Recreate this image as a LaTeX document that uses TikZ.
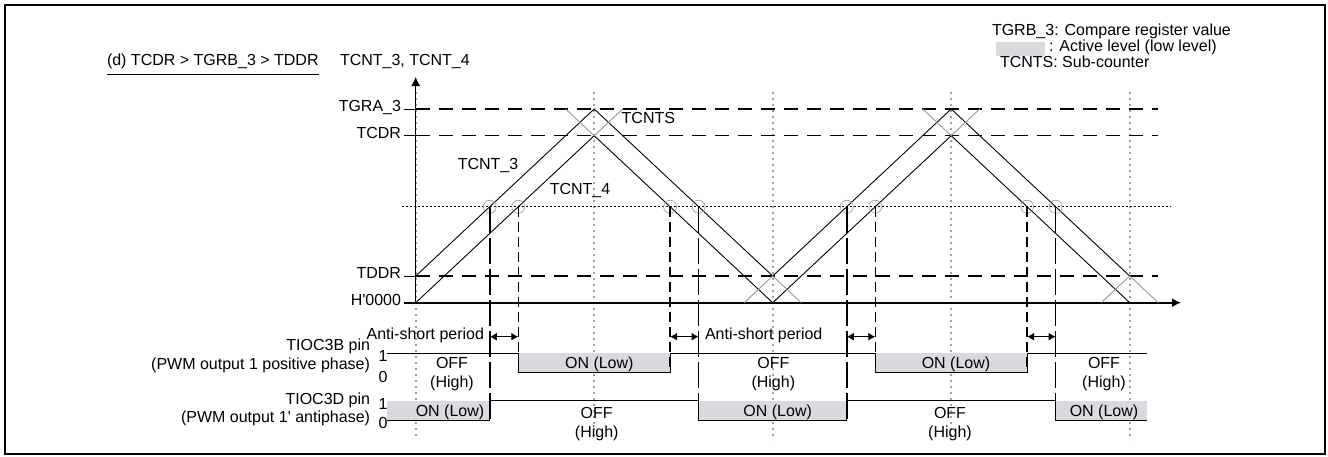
\documentclass[tikz,border=0pt]{standalone}
\usepackage{fontspec}
\setmainfont{Liberation Sans}
\usetikzlibrary{arrows.meta,calc}
\definecolor{actfill}{RGB}{217,218,223}
\definecolor{dotgray}{RGB}{160,160,160}
\definecolor{subgray}{RGB}{150,150,150}
\begin{document}
\begin{tikzpicture}[x=1pt,y=-1pt,
  every node/.style={font=\fontsize{16}{18.5}\selectfont, inner sep=0pt, outer sep=0pt},
  frameline/.style={line width=2pt},
  levelline/.style={line width=1.3pt, dash pattern=on 14pt off 9pt},
  cmpline/.style={line width=1pt, dash pattern=on 2pt off 2pt},
  gridline/.style={dotgray, line width=1.6pt, dash pattern=on 1.6pt off 4.4pt},
  cnt/.style={line width=0.9pt},
  subcnt/.style={subgray, line width=0.9pt},
  markthree/.style={line width=1.4pt, dash pattern=on 26pt off 5pt},
  markfour/.style={line width=1.4pt, dash pattern=on 10pt off 5pt},
  wave/.style={line width=1pt},
  ring/.style={draw=subgray, line width=0.6pt, circle, minimum size=13pt},
  gaparrow/.style={{Latex[length=7pt,width=8pt]}-{Latex[length=7pt,width=8pt]}, line width=1.2pt},
  axisarrow/.style={-{Latex[length=9pt,width=9pt]}},
]
\useasboundingbox (0,0) rectangle (1328,456);
\draw[frameline] (5,5) rectangle (1325,454);

% grid verticals
\foreach \x in {415.7,594.2,772.7,951.2,1129.7}
  \draw[gridline] (\x,92) -- (\x,440);

% active level fills
\fill[actfill] (518.3,353.3) rectangle (670.1,372.7);
\fill[actfill] (875.3,353.3) rectangle (1027.1,372.7);
\fill[actfill] (387,400.7) rectangle (489.8,420.7);
\fill[actfill] (698.6,400.7) rectangle (846.8,420.7);
\fill[actfill] (1055.6,400.7) rectangle (1146.7,420.7);

% level lines
\draw[levelline] (416,109) -- (1158,109);
\draw[levelline] (416,135.7) -- (1158,135.7);
\draw[levelline] (416,276) -- (1158,276);
\draw[cmpline] (401.7,206.7) -- (1170.7,206.7);
\foreach \y in {109,135.7,276}
  \draw[line width=1pt] (404,\y) -- (416,\y);

% axes
\draw[line width=1pt, axisarrow] (415.7,302.7) -- (415.7,77);
\draw[line width=1.6pt, axisarrow] (404,302.7) -- (1181,302.7);

% counters
\draw[cnt] (415.7,276) -- (594.2,109) -- (772.7,276) -- (951.2,109) -- (1129.7,276);
\draw[cnt] (415.7,302.7) -- (594.2,135.7) -- (772.7,302.7) -- (951.2,135.7) -- (1129.7,302.7);
\draw[subcnt] (565.7,109) -- (594.2,135.7) -- (622.7,109);
\draw[subcnt] (922.7,109) -- (951.2,135.7) -- (979.7,109);
\draw[subcnt] (744.2,302.7) -- (772.7,276) -- (801.2,302.7);
\draw[subcnt] (1101.2,302.7) -- (1129.7,276) -- (1158.2,302.7);

% compare match points
\node[ring] (c1) at (489.8,206.7) {};
\node[ring] (c2) at (518.3,206.7) {};
\node[ring] (c3) at (670.1,206.7) {};
\node[ring] (c4) at (698.6,206.7) {};
\node[ring] (c5) at (846.8,206.7) {};
\node[ring] (c6) at (875.3,206.7) {};
\node[ring] (c7) at (1027.1,206.7) {};
\node[ring] (c8) at (1055.6,206.7) {};

\foreach \c in {c1,c4,c5,c8}
  \draw[markthree] (\c.center) -- ++(0,214);
\foreach \c in {c2,c3,c6,c7}
  \draw[markfour] (\c.center) -- ++(0,166);

% anti-short arrows
\draw[gaparrow] ($(c1.center)+(0,130)$) -- ($(c2.center)+(0,130)$);
\draw[gaparrow] ($(c3.center)+(0,130)$) -- ($(c4.center)+(0,130)$);
\draw[gaparrow] ($(c5.center)+(0,130)$) -- ($(c6.center)+(0,130)$);
\draw[gaparrow] ($(c7.center)+(0,130)$) -- ($(c8.center)+(0,130)$);

% waveforms
\draw[wave] (387,353.3) -- (518.3,353.3) -- (518.3,372.7) -- (670.1,372.7) -- (670.1,353.3)
  -- (875.3,353.3) -- (875.3,372.7) -- (1027.1,372.7) -- (1027.1,353.3) -- (1146.7,353.3);
\draw[wave] (387,420.7) -- (489.8,420.7) -- (489.8,400.7) -- (698.6,400.7) -- (698.6,420.7)
  -- (846.8,420.7) -- (846.8,400.7) -- (1055.6,400.7) -- (1055.6,420.7) -- (1146.7,420.7);

% titles
\node[anchor=mid west] (title) at (107,63) {(d) TCDR > TGRB\_3 > TDDR};
\draw[line width=1pt] ($(title.base west)+(0,9)$) -- ($(title.base east)+(0,9)$);
\node[anchor=mid west] (yttl) at (340,62.7) {TCNT\_3, TCNT\_4};

% legend
\node[anchor=mid west] (lg1) at (992,33) {TGRB\_3: Compare register value};
\node[fill=actfill, minimum width=49pt, minimum height=14pt, anchor=west] (lgbox) at (996,49) {};
\node[anchor=mid west] (lg2) at (1049,49) {: Active level (low level)};
\node[anchor=mid west] (lg3) at (1000,65) {TCNTS: Sub-counter};

% axis labels
\node[anchor=mid east] (lA) at (401,109) {TGRA\_3};
\node[anchor=mid east] (lC) at (401,135.7) {TCDR};
\node[anchor=mid east] (lD) at (401,276) {TDDR};
\node[anchor=mid east] (l0) at (401,302.7) {H\textquotesingle 0000};

% counter labels
\node[anchor=mid west] (ts) at (621.7,121) {TCNTS};
\node (t3) at (488,165) {TCNT\_3};
\node (t4) at (580,190) {TCNT\_4};

% anti-short labels
\node[anchor=mid east] (as1) at (484,336.7) {Anti-short period};
\node[anchor=mid west] (as2) at (705,336.7) {Anti-short period};

% pin labels
\node[anchor=mid east] (bpin) at (370,348) {TIOC3B pin};
\node[anchor=mid east] (bsub) at (370,367) {(PWM output 1 positive phase)};
\node[anchor=mid east] (dpin) at (370,402) {TIOC3D pin};
\node[anchor=mid east] (dsub) at (370,420) {(PWM output 1\textquotesingle\ antiphase)};
\node (b1) at (383,356) {1};
\node (b0) at (383,376.5) {0};
\node (d1) at (383,404) {1};
\node (d0) at (383,423) {0};

% state labels
\node[align=center] (s1) at (452,374) {OFF\\(High)};
\node (s2) at (599.3,364.3) {ON (Low)};
\node (s3) at (450,412) {ON (Low)};
\node[align=center] (s4) at (596.7,424) {OFF\\(High)};
\node[align=center] (s5) at (773.3,374) {OFF\\(High)};
\node (s6) at (777.7,412) {ON (Low)};
\node (s7) at (956,364) {ON (Low)};
\node[align=center] (s8) at (950,424) {OFF\\(High)};
\node[align=center] (s9) at (1104,374) {OFF\\(High)};
\node (s10) at (1104,412) {ON (Low)};
\end{tikzpicture}
\end{document}
